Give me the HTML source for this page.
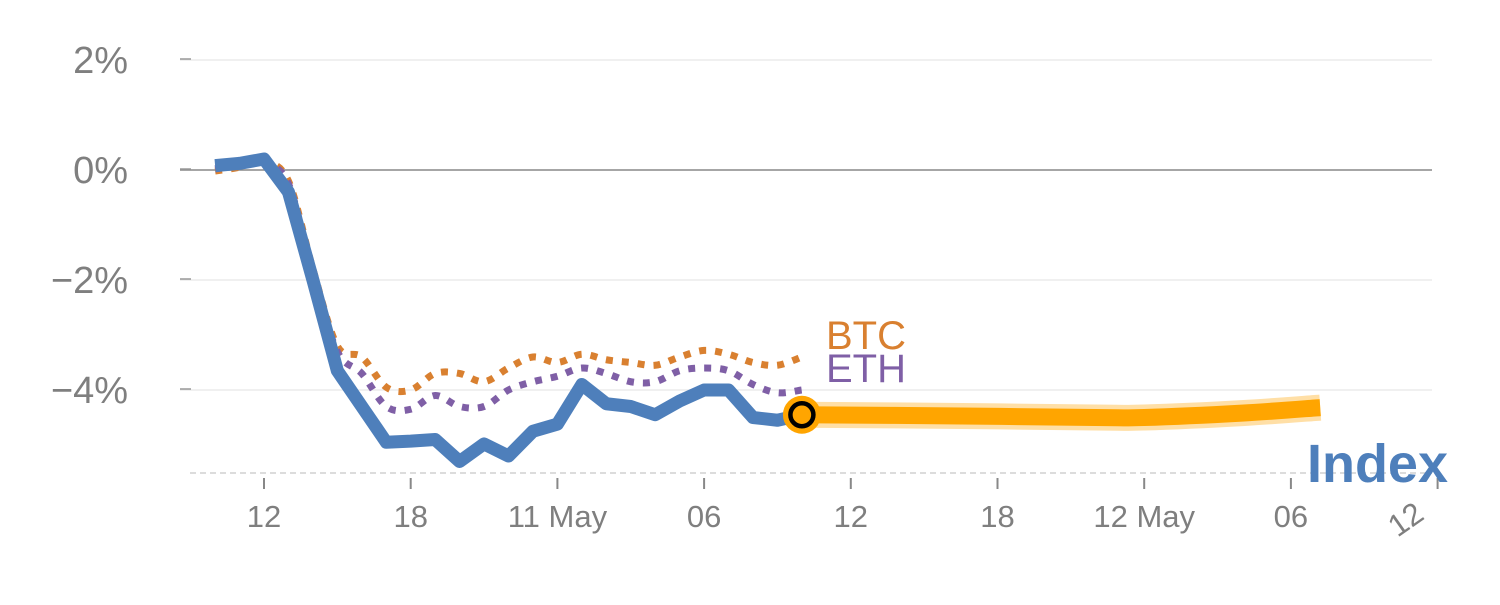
<!DOCTYPE html>
<html><head><meta charset="utf-8"><style>
body{margin:0;background:#fff;width:1500px;height:600px;overflow:hidden}
svg text{font-family:"Liberation Sans",sans-serif}
</style></head><body>
<svg id="chart" width="1500" height="600" viewBox="0 0 1500 600" xmlns="http://www.w3.org/2000/svg">
<g id="grid"></g>
<g id="yaxis"></g>
<g id="xaxis"></g>
<g id="series"></g>
<text x="826" y="349" font-size="40" fill="#d98030">BTC</text>
<text x="826" y="382" font-size="40" fill="#7f5fa6">ETH</text>
<text x="1448" y="482" font-size="54" font-weight="bold" fill="#4e7fbb" text-anchor="end">Index</text>
</svg>
<script>
const yTicks=[2,0,-2,-4];
const yTickLabels=["2%","0%","\u22122%","\u22124%"];
const xTickIdx=[2,8,14,20,26,32,38,44,50];
const xTickLabels=["12","18","11 May","06","12","18","12 May","06","12"];
const indexVals=[0.08,0.12,0.2,-0.4,-2.0,-3.65,-4.3,-4.95,-4.93,-4.9,-5.3,-4.98,-5.2,-4.75,-4.62,-3.9,-4.25,-4.3,-4.45,-4.2,-4.0,-4.0,-4.5,-4.55,-4.45];
const btcVals=[-0.02,0.05,0.15,-0.2,-1.8,-3.2,-3.4,-3.95,-4.0,-3.7,-3.7,-3.85,-3.6,-3.4,-3.5,-3.35,-3.45,-3.5,-3.55,-3.4,-3.28,-3.35,-3.5,-3.55,-3.4];
const ethVals=[0.02,0.08,0.12,-0.25,-1.9,-3.3,-3.7,-4.3,-4.35,-4.1,-4.3,-4.3,-4.0,-3.85,-3.75,-3.6,-3.7,-3.85,-3.85,-3.65,-3.6,-3.65,-3.9,-4.05,-4.0];
const fcIdx=[24,30,36,38,42,45.2];
const fcVals=[-4.45,-4.47,-4.5,-4.5,-4.42,-4.32];

const NS="http://www.w3.org/2000/svg";
const X=i=>264+(i-2)*24.45;
const Y=v=>170-v*55;
function mk(tag,attrs,parent){const e=document.createElementNS(NS,tag);for(const k in attrs)e.setAttribute(k,attrs[k]);parent.appendChild(e);return e;}
const grid=document.getElementById('grid'),ya=document.getElementById('yaxis'),xa=document.getElementById('xaxis'),ser=document.getElementById('series');
yTicks.forEach((v,k)=>{
  const g=mk('line',{x1:180,x2:1432,y1:Y(v),y2:Y(v),stroke:v===0?'#888':'#e6e6e6','stroke-width':v===0?1.5:1.2},grid);
  
  
  const t=mk('line',{x1:180,x2:191,y1:Y(v)-1,y2:Y(v)-1,stroke:'#999','stroke-width':1.5},ya);
  
  
  const l=mk('text',{x:128,y:Y(v)+13,'font-size':38,fill:'#7f7f7f','text-anchor':'end'},ya);
  l.textContent=yTickLabels[k];
  
  
});
const base=mk('line',{x1:190,x2:1432,y1:473,y2:473,stroke:'#dcdcdc','stroke-width':2,'stroke-dasharray':'6 4'},xa);


xTickIdx.forEach((i,k)=>{
  const x=X(i);
  const t=mk('line',{x1:x,x2:x,y1:478,y2:489,stroke:'#888','stroke-width':2},xa);
  
  
  const last=k===xTickIdx.length-1;
  const l=mk('text',{x:last?x-26:x,y:last?528:527,'font-size':31,fill:'#7f7f7f','text-anchor':'middle'},xa);
  if(last)l.setAttribute('transform','rotate(-35 '+(x-26)+' 528)');
  l.textContent=xTickLabels[k];
  
  
});
function smooth(pts){let d='M'+pts[0][0]+','+pts[0][1];for(let i=0;i<pts.length-1;i++){const p0=pts[i-1]||pts[i],p1=pts[i],p2=pts[i+1],p3=pts[i+2]||p2;d+=' C'+(p1[0]+(p2[0]-p0[0])/6)+','+(p1[1]+(p2[1]-p0[1])/6)+' '+(p2[0]-(p3[0]-p1[0])/6)+','+(p2[1]-(p3[1]-p1[1])/6)+' '+p2[0]+','+p2[1];}return d;}
const btc=mk('path',{d:smooth(btcVals.map((v,i)=>[X(i),Y(v)])),fill:'none',stroke:'#d98030','stroke-width':7,'stroke-dasharray':'7 9'},ser);


const eth=mk('path',{d:smooth(ethVals.map((v,i)=>[X(i),Y(v)])),fill:'none',stroke:'#7f5fa6','stroke-width':7,'stroke-dasharray':'7 9'},ser);


const idx=mk('path',{d:'M'+indexVals.map((v,i)=>X(i)+','+Y(v)).join(' L'),fill:'none',stroke:'#4e7fbb','stroke-width':13,'stroke-linejoin':'round'},ser);


const fcPts=fcIdx.map((i,k)=>[X(i),Y(fcVals[k])]);
const halo=mk('path',{d:smooth(fcPts),fill:'none',stroke:'#ffdfa6','stroke-width':26},ser);


const fc=mk('path',{d:smooth(fcPts),fill:'none',stroke:'#ffa500','stroke-width':17},ser);


const last=indexVals.length-1;
const c1=mk('circle',{cx:X(last),cy:Y(indexVals[last]),r:19,fill:'#ffa500'},ser);


const c2=mk('circle',{cx:X(last),cy:Y(indexVals[last]),r:11.5,fill:'#ffa500',stroke:'#000','stroke-width':4.5},ser);


</script>
</body></html>
